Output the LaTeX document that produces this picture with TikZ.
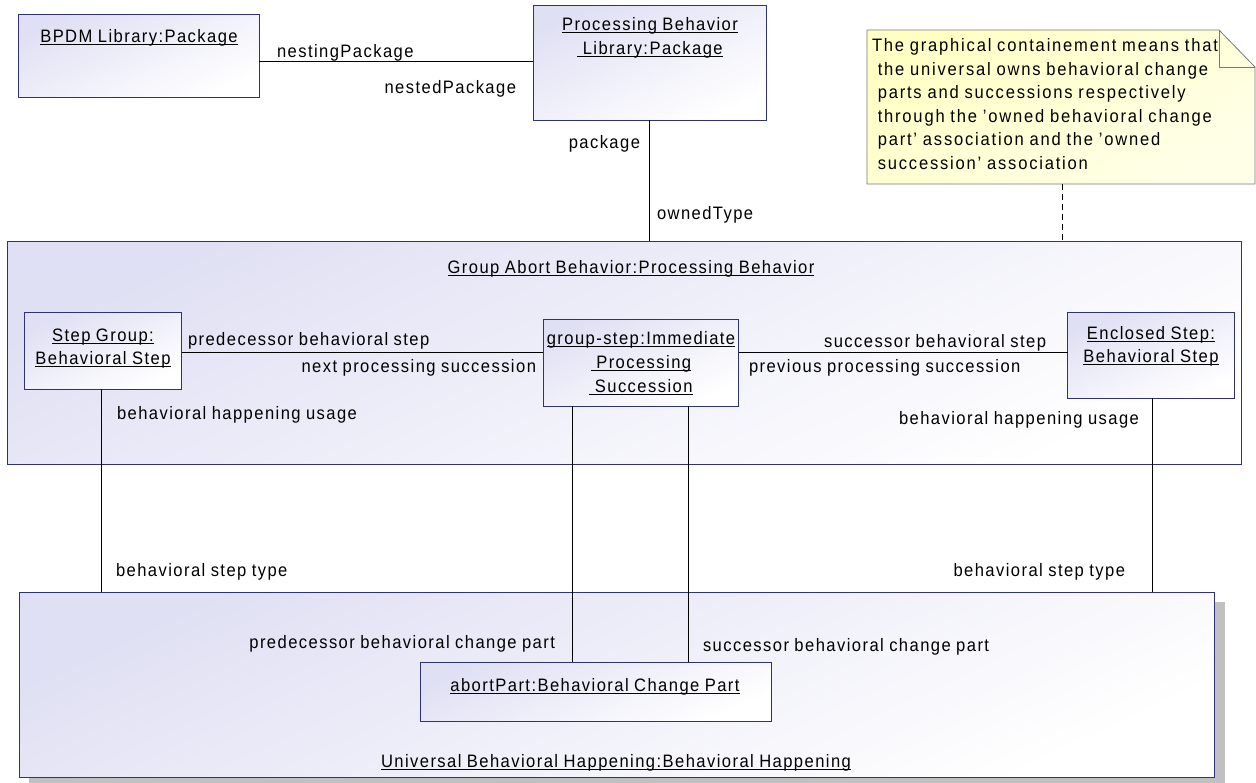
\documentclass[tikz,border=0pt]{standalone}
\usepackage{fontspec}
\setmainfont{Liberation Sans}[FakeStretch=0.92,LetterSpace=8,WordSpace=0.9]
% underlined object name, rule sits just under the baseline
\newcommand\uln[1]{\setbox0=\hbox{#1}\rlap{\rule[-3pt]{\wd0}{0.9pt}}\box0}
\definecolor{boxline}{RGB}{48,48,128}
\definecolor{boxfill}{RGB}{224,224,244}
\definecolor{notefill}{RGB}{255,255,196}
\definecolor{notefilltwo}{RGB}{255,255,232}
\definecolor{noteline}{RGB}{120,120,120}
\definecolor{shadowgray}{RGB}{192,192,192}
\begin{document}
\begin{tikzpicture}[x=1pt,y=-1pt,
  every node/.style={inner sep=0pt,outer sep=0pt,font=\fontsize{18pt}{22pt}\selectfont},
  objbox/.style={draw=boxline,line width=1pt,top color=boxfill,bottom color=white,
    shading angle=25,anchor=north west,minimum width=#1},
  conn/.style={draw=black,line width=0.8pt},
  lbl/.style={anchor=base west},
  lblr/.style={anchor=base east},
  ttl/.style={anchor=base}]
\useasboundingbox[fill=white] (0,0) rectangle (1256,782);

% ---------- packages ----------
\node[objbox=241pt,minimum height=83pt] (bpdm) at (18,14) {};
\node[ttl] (bpdmT) at (139,42) {\uln{BPDM Library:Package}};

\node[objbox=233pt,minimum height=115pt] (proc) at (533,5) {};
\node[ttl] (procT1) at (650,30) {\uln{Processing Behavior}};
\node[ttl] (procT2) at (650,54) {\uln{ Library:Package}};

\draw[conn] (bpdm.east |- 0,61) -- (proc.west |- 0,61);
\node[lbl]  (nesting) at (277,57) {nestingPackage};
\node[lblr] (nested)  at (516,93) {nestedPackage};

% ---------- note ----------
\path[draw=noteline,line width=0.8pt,top color=notefill,bottom color=notefilltwo,shading angle=30]
  (867,30) -- (1219,30) -- (1255,67) -- (1255,184) -- (867,184) -- cycle;
\draw[noteline,line width=0.8pt] (1219,30) -- (1219,67) -- (1255,67);
\begin{scope}[every node/.append style={font=\fontsize{18pt}{22pt}\selectfont\addfontfeature{LetterSpace=10}}]
\node[anchor=base west] (noteT1) at (872,51)  {The graphical containement means that};
\node[anchor=base west] (noteT2) at (872,75)  {\ the universal owns behavioral change};
\node[anchor=base west] (noteT3) at (872,98)  {\ parts and successions respectively};
\node[anchor=base west] (noteT4) at (872,122) {\ through the 'owned behavioral change};
\node[anchor=base west] (noteT5) at (872,145) {\ part' association and the 'owned};
\node[anchor=base west] (noteT6) at (872,169) {\ succession' association};
\end{scope}
\coordinate (noteFoot) at (1062,184);

% ---------- processing behaviour ----------
\node[objbox=1234pt,minimum height=223pt] (grp) at (7,241) {};
\node[ttl] (grpT) at (631,273) {\uln{Group Abort Behavior:Processing Behavior}};

\draw[conn] (proc.south) -- (proc.south |- grp.north);
\node[lblr] (pkg)   at (640,148) {package};
\node[lbl]  (owned) at (657,219) {ownedType};
\draw[conn,dashed,dash pattern=on 6pt off 4pt] (noteFoot) -- (noteFoot |- grp.north);

\node[objbox=157pt,minimum height=77pt] (sg) at (24.5,312) {};
\node[ttl] (sgT1) at (103,341) {\uln{Step Group:}};
\node[ttl] (sgT2) at (103,364) {\uln{Behavioral Step}};

\node[objbox=195.5pt,minimum height=87pt] (gs) at (543,319) {};
\node[ttl] (gsT1) at (641,344) {\uln{group-step:Immediate}};
\node[ttl] (gsT2) at (641,368) {\uln{ Processing}};
\node[ttl] (gsT3) at (641,392) {\uln{ Succession}};

\node[objbox=167pt,minimum height=86pt] (es) at (1067.5,312) {};
\node[ttl] (esT1) at (1151,339) {\uln{Enclosed Step:}};
\node[ttl] (esT2) at (1151,362) {\uln{Behavioral Step}};

\draw[conn] (sg.east |- 0,352) -- (gs.west |- 0,352);
\draw[conn] (gs.east |- 0,352) -- (es.west |- 0,352);
\node[lbl]  (predStep) at (188,345) {predecessor behavioral step};
\node[lblr] (nextSucc) at (536,372) {next processing succession};
\node[lblr] (succStep) at (1046,347) {successor behavioral step};
\node[lbl]  (prevSucc) at (749,372) {previous processing succession};
\node[lbl]  (bhuL) at (117,419) {behavioral happening usage};
\node[lblr] (bhuR) at (1139,424) {behavioral happening usage};

% ---------- universal happening ----------
\fill[shadowgray] (29,602) rectangle (1225,787);
\node[objbox=1195pt,minimum height=185pt] (univ) at (19,592) {};
\node[ttl] (univT) at (616,767) {\uln{Universal Behavioral Happening:Behavioral Happening}};

\node[objbox=351pt,minimum height=59pt] (abort) at (420,662) {};
\node[ttl] (abortT) at (595,691) {\uln{abortPart:Behavioral Change Part}};

\draw[conn] (sg.south -| 101,0) -- (univ.north -| 101,0);
\draw[conn] (es.south -| 1152,0) -- (univ.north -| 1152,0);
\draw[conn] (gs.south -| 572,0) -- (abort.north -| 572,0);
\draw[conn] (gs.south -| 688,0) -- (abort.north -| 688,0);

\node[lbl]  (stL) at (116,576) {behavioral step type};
\node[lblr] (stR) at (1125,576) {behavioral step type};
\node[lblr] (predPart) at (555,648) {predecessor behavioral change part};
\node[lbl]  (succPart) at (703,651) {successor behavioral change part};
\end{tikzpicture}
\end{document}
